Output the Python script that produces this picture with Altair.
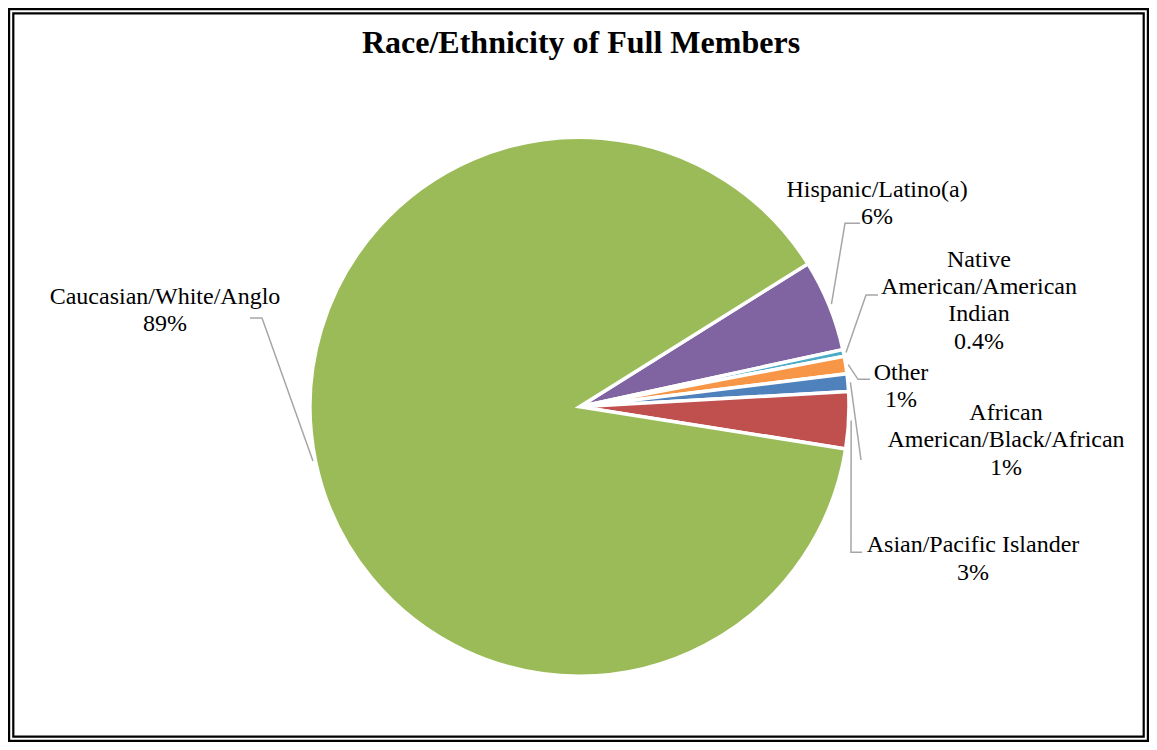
import math
import altair as alt
import pandas as pd

# ---------------- data ----------------
categories = [
    "Hispanic/Latino(a)",
    "Native American/American Indian",
    "Other",
    "African American/Black/African",
    "Asian/Pacific Islander",
    "Caucasian/White/Anglo",
]
shares = [5.5, 0.4, 1.05, 1.05, 3.4, 88.6]
pct_labels = ["6%", "0.4%", "1%", "1%", "3%", "89%"]
label_lines = [
    ["Hispanic/Latino(a)"],
    ["Native", "American/American", "Indian"],
    ["Other"],
    ["African", "American/Black/African"],
    ["Asian/Pacific Islander"],
    ["Caucasian/White/Anglo"],
]
colors = ["#8064A2", "#4BACC6", "#F79646", "#4F81BD", "#C0504D", "#9BBB59"]
title_text = "Race/Ethnicity of Full Members"

# ---------------- layout (page pixel coordinates) ----------------
M = 8                      # page margin
W, H = 1141, 734           # whole chart
CX, CY = 579.5 - M, 406.7 - M
R_OUT = 269.5
START_DEG = 57.97          # first slice starts here (clockwise from 12 o'clock)
LEADER_R = 272

# label anchor: (center x, first baseline y) in page coords
label_pos = [
    (877, 196.7),
    (979, 266.7),
    (901, 380.0),
    (1006, 420.0),
    (973, 552.3),
    (165, 304.0),
]
# leader line waypoints after the start point (page coords)
leader_via = [
    [(845, 223.3), (860, 223.3)],
    [(866, 295.0), (878, 295.0)],
    [(858, 379.3), (870, 379.3)],
    [(861, 460.0)],
    [(851, 552.3), (862, 552.3)],
    [(262, 318.0), (250, 318.0)],
]

FONT = "Liberation Serif"
LINE_H = 27.4

# ---------------- tables ----------------
pie_df = pd.DataFrame({"cat": categories, "share": shares, "ord": list(range(len(categories)))})

total = sum(shares)
rows = []
cum = 0.0
for i, (c, s) in enumerate(zip(categories, shares)):
    mid = math.radians(START_DEG + 360.0 * (cum + s / 2.0) / total)
    cum += s
    sx = CX + LEADER_R * math.sin(mid)
    sy = CY - LEADER_R * math.cos(mid)
    pts = [(sx, sy)] + [(x - M, y - M) for (x, y) in leader_via[i]]
    for k, (x, y) in enumerate(pts):
        rows.append({"cat": c, "seq": k, "x": x, "y": y})
lead_df = pd.DataFrame(rows)

lab_df = pd.DataFrame({
    "cat": categories,
    "txt": ["\n".join(l + [p]) for l, p in zip(label_lines, pct_labels)],
    "x": [p[0] - M for p in label_pos],
    "y": [p[1] - M for p in label_pos],
})

t0 = math.radians(START_DEG)

pie = alt.Chart(pie_df).mark_arc(outerRadius=R_OUT, stroke="white", strokeWidth=3.5).encode(
    theta=alt.Theta("share:Q", stack=True, scale=alt.Scale(range=[t0, t0 + 2 * math.pi])),
    color=alt.Color("cat:N", scale=alt.Scale(domain=categories, range=colors), legend=None),
    order=alt.Order("ord:Q"),
    x=alt.value(CX),
    y=alt.value(CY),
)

leaders = alt.Chart(lead_df).mark_line(color="#A6A6A6", strokeWidth=1.5).encode(
    x=alt.X("x:Q", scale=None, axis=None),
    y=alt.Y("y:Q", scale=None, axis=None),
    detail="cat:N",
    order="seq:Q",
)

labels = alt.Chart(lab_df).mark_text(
    font=FONT, fontSize=24, align="center", baseline="alphabetic",
    lineBreak="\n", lineHeight=LINE_H, color="#000000",
).encode(
    x=alt.X("x:Q", scale=None, axis=None),
    y=alt.Y("y:Q", scale=None, axis=None),
    text="txt:N",
)

title = alt.Chart(pd.DataFrame({"t": [title_text]})).mark_text(
    font=FONT, fontSize=32, fontWeight="bold", align="center", baseline="alphabetic", color="#000000",
).encode(
    x=alt.value(581 - M),
    y=alt.value(53.3 - M),
    text="t:N",
)

frame_df = pd.DataFrame({"k": ["outer", "inner"], "inset": [1.1, 5.3]})
frame_outer = alt.Chart(pd.DataFrame({"k": ["outer"]})).mark_rect(
    filled=False, stroke="#000000", strokeWidth=2.2
).encode(x=alt.value(1.1), x2=alt.value(W - 1.1), y=alt.value(1.1), y2=alt.value(H - 1.1))
frame_inner = alt.Chart(pd.DataFrame({"k": ["inner"]})).mark_rect(
    filled=False, stroke="#000000", strokeWidth=2.2
).encode(x=alt.value(5.3), x2=alt.value(W - 5.3), y=alt.value(5.3), y2=alt.value(H - 5.3))

chart = alt.layer(pie, leaders, labels, title, frame_outer, frame_inner).properties(
    width=W, height=H, padding=0, autosize=alt.AutoSizeParams(type="none"), background="white"
).configure_view(stroke=None)

chart.save("out.html", embed_options={"renderer": "svg", "actions": False})
